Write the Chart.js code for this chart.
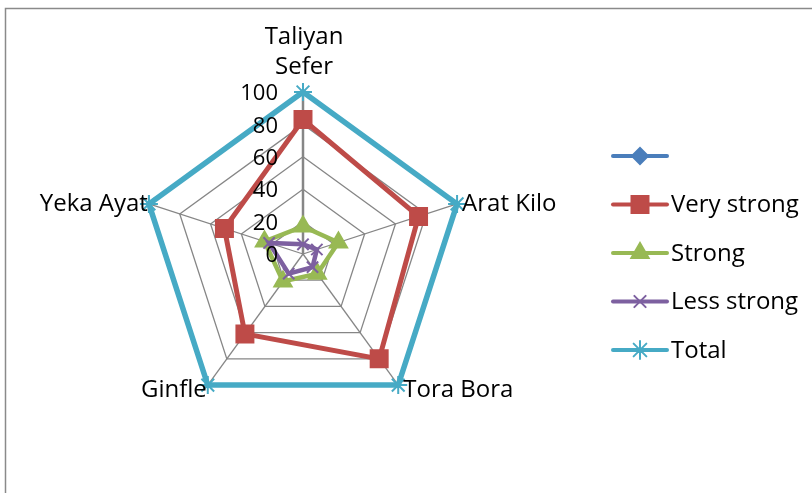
<!DOCTYPE html>
<html>
<head>
<meta charset="utf-8">
<script src="https://cdn.jsdelivr.net/npm/chart.js@4.4.0/dist/chart.umd.min.js"></script>
<style>
  html, body { margin: 0; padding: 0; background: #fff; overflow: hidden; }
  #wrap { position: relative; width: 812px; height: 493px; }
</style>
</head>
<body>
<div id="wrap"><canvas id="radarChart" width="812" height="493"></canvas></div>
<script>
// chart values
const sites = [['Taliyan', 'Sefer'], 'Arat Kilo', 'Tora Bora', 'Ginfle', 'Yeka Ayat'];
const seriesNames = ['', 'Very strong', 'Strong', 'Less strong', 'Total'];
const blankValues = [null, null, null, null, null];
const veryStrong = [83, 75, 80, 61, 51];
const strong = [17, 23, 15, 21, 25];
const lessStrong = [6, 9, 10, 15, 22];
const total = [100, 100, 100, 100, 100];
const tickValues = [0, 20, 40, 60, 80, 100];

const FONT = '"Open Sans", "Noto Sans", sans-serif';

// series styles (Excel 2007 palette)
const styles = [
  { color: '#4A7EBB', point: 'rectRot', radius: 8, width: 4.5 },
  { color: '#BE4B48', point: 'rect', radius: 12, width: 5 },
  { color: '#98B954', point: 'triangle', radius: 10, width: 4.5 },
  { color: '#7D60A0', point: 'crossRot', radius: 8, width: 4.5 },
  { color: '#46AAC5', point: 'star', radius: 9, width: 5.5 }
];
const seriesData = [blankValues, veryStrong, strong, lessStrong, total];

// draw a marker the same way chart.js does
function marker(ctx, st, x, y) {
  ctx.save();
  ctx.fillStyle = st.color;
  ctx.strokeStyle = st.color;
  ctx.lineWidth = 2;
  Chart.helpers.drawPoint(ctx, { pointStyle: st.point, radius: st.radius, rotation: 0, borderWidth: 2 }, x, y);
  ctx.restore();
}

const decorPlugin = {
  id: 'decor',
  beforeDraw(chart) {
    const ctx = chart.ctx;
    ctx.save();
    ctx.fillStyle = '#fff';
    ctx.fillRect(0, 0, chart.width, chart.height);
    ctx.strokeStyle = '#8a8a8a';
    ctx.lineWidth = 1.5;
    ctx.strokeRect(5.5, 8.5, 900, 600);
    ctx.restore();
  },
  afterDraw(chart) {
    const ctx = chart.ctx;
    const scale = chart.scales.r;
    ctx.save();

    // value ticks, to the left of the top spoke
    ctx.font = '22px ' + FONT;
    ctx.fillStyle = '#000';
    ctx.textAlign = 'right';
    ctx.textBaseline = 'middle';
    tickValues.forEach(v => {
      const y = scale.yCenter - scale.getDistanceFromCenterForValue(v);
      ctx.fillText(String(v), scale.xCenter - 25, y + 2);
    });

    // category labels
    ctx.font = '24px ' + FONT;
    sites.forEach((label, i) => {
      const pos = scale.getPointPosition(i, scale.drawingArea);
      const deg = Math.round(scale.getIndexAngle(i) * 180 / Math.PI) % 360;
      const lines = Array.isArray(label) ? label : [label];
      if (deg === 0) {
        ctx.textAlign = 'center';
        lines.forEach((t, k) => {
          ctx.fillText(t, pos.x + 1, pos.y - 25 - (lines.length - 1 - k) * 30);
        });
      } else {
        ctx.textAlign = deg < 180 ? 'left' : 'right';
        const dx = deg < 180 ? 5 : -1;
        const dy = (deg > 90 && deg < 270) ? 5 : 0;
        ctx.fillText(lines[0], pos.x + dx, pos.y + dy);
      }
    });

    // legend
    ctx.textAlign = 'left';
    styles.forEach((st, i) => {
      const y = 156 + i * 48.5;
      ctx.strokeStyle = st.color;
      ctx.lineWidth = 4;
      ctx.lineCap = 'round';
      ctx.beginPath();
      ctx.moveTo(613, y);
      ctx.lineTo(667, y);
      ctx.stroke();
      marker(ctx, st, 640, y);
      ctx.fillStyle = '#000';
      ctx.fillText(seriesNames[i], 671, y + 1);
    });
    ctx.restore();
  }
};

const datasets = seriesData.map((values, i) => ({
  label: seriesNames[i],
  data: values,
  borderColor: styles[i].color,
  backgroundColor: styles[i].color,
  borderWidth: styles[i].width,
  fill: false,
  tension: 0,
  pointStyle: styles[i].point,
  pointRadius: styles[i].radius,
  pointHoverRadius: styles[i].radius,
  pointBorderWidth: 2,
  pointBackgroundColor: styles[i].color,
  pointBorderColor: styles[i].color,
  order: 5 - i
}));

new Chart(document.getElementById('radarChart').getContext('2d'), {
  type: 'radar',
  data: {
    labels: sites,
    datasets: datasets
  },
  options: {
    responsive: false,
    animation: false,
    devicePixelRatio: 1,
    layout: {
      padding: { left: 141, top: 92, right: 347, bottom: 77 }
    },
    plugins: {
      legend: { display: false },
      tooltip: { enabled: false }
    },
    scales: {
      r: {
        min: 0,
        max: 100,
        ticks: { stepSize: 20, display: false },
        pointLabels: { display: false },
        grid: { circular: false, color: '#868686', lineWidth: 1.3 },
        angleLines: {
          color: '#868686',
          lineWidth: ctx => ctx.index === 0 ? 2.5 : 1.3
        }
      }
    }
  },
  plugins: [decorPlugin]
});
</script>
</body>
</html>
